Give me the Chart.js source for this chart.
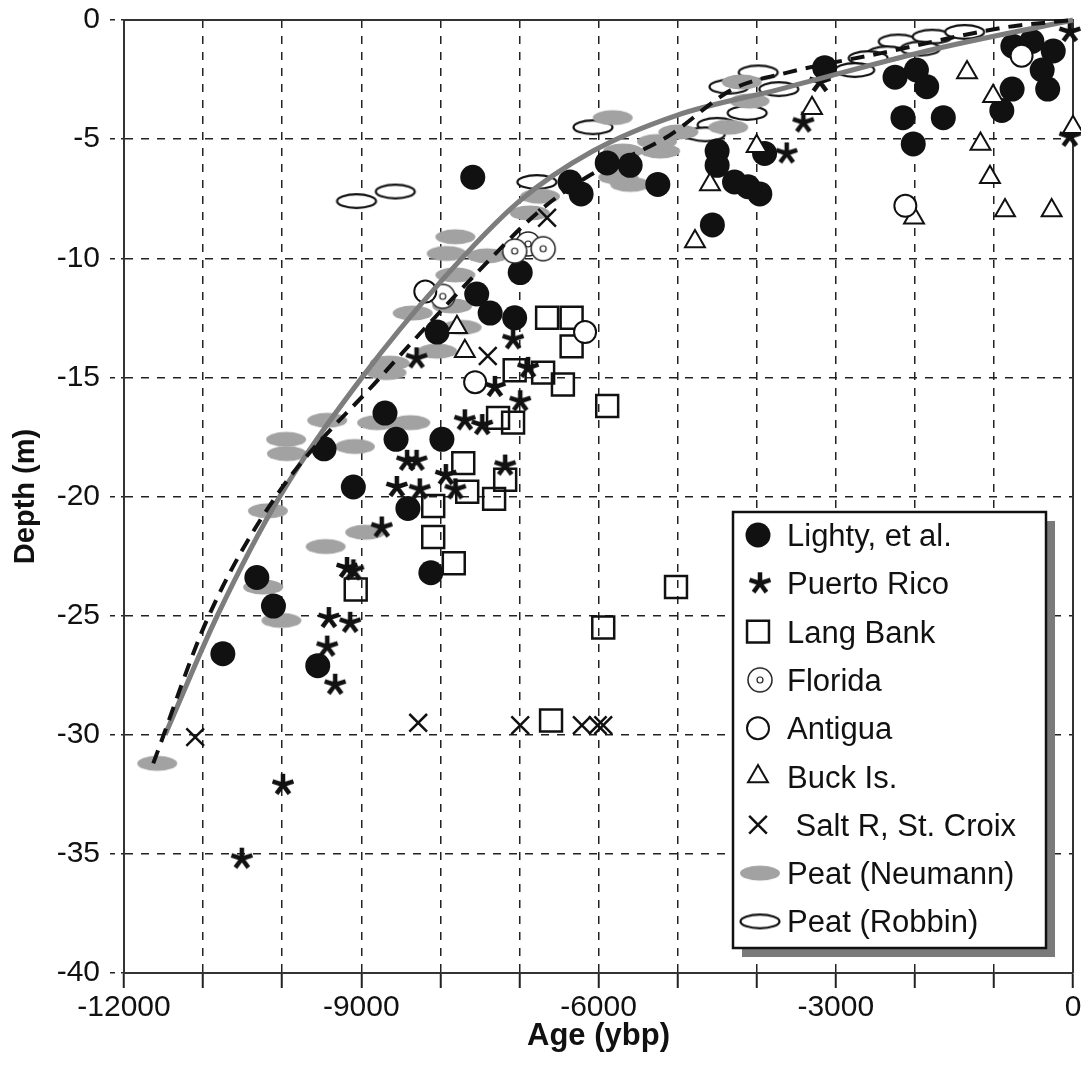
<!DOCTYPE html>
<html>
<head>
<meta charset="utf-8">
<script src="https://cdn.jsdelivr.net/npm/chart.js@4.4.1/dist/chart.umd.min.js"></script>
<style>
  html, body { margin: 0; padding: 0; background: #fff; }
  #c { display: block; }
</style>
</head>
<body>
<canvas id="c" width="1081" height="1065"></canvas>
<script>
// data: [age (ybp), depth (m)]
const lighty = [[-3140,-2.0],[-2250,-2.4],[-1980,-2.1],[-1850,-2.8],[-2150,-4.1],[-1640,-4.1],[-2020,-5.2],
  [-760,-1.1],[-520,-0.9],[-250,-1.3],[-390,-2.1],[-320,-2.9],[-770,-2.9],[-900,-3.8],
  [-5890,-6.0],[-5600,-6.1],[-6360,-6.8],[-6220,-7.3],[-5250,-6.9],[-4500,-5.5],[-4500,-6.1],[-4280,-6.8],
  [-4110,-7.0],[-3960,-7.3],[-4560,-8.6],[-3900,-5.6],
  [-7590,-6.6],[-6990,-10.6],[-7540,-11.5],[-7370,-12.3],[-7060,-12.5],[-8040,-13.1],
  [-8700,-16.5],[-8560,-17.6],[-7980,-17.6],[-9470,-18.0],[-9100,-19.6],[-8410,-20.5],[-8120,-23.2],
  [-10320,-23.4],[-10110,-24.6],[-10750,-26.6],[-9550,-27.1]];
const puertoRico = [[-40,-0.5],[-40,-4.9],[-3200,-2.6],[-3410,-4.3],[-3620,-5.6],[-8300,-14.2],[-7080,-13.4],
  [-7310,-15.4],[-6890,-14.6],[-6990,-16.0],[-7690,-16.8],[-7470,-17.0],[-7180,-18.7],[-8420,-18.5],
  [-8300,-18.5],[-8550,-19.6],[-8260,-19.7],[-7930,-19.1],[-7810,-19.7],[-8740,-21.3],[-9180,-23.0],
  [-9100,-23.1],[-9410,-25.1],[-9140,-25.3],[-9430,-26.3],[-9330,-27.9],[-9990,-32.1],[-10510,-35.2]];
const langBank = [[-6650,-12.5],[-6340,-12.5],[-6340,-13.7],[-7060,-14.7],[-6700,-14.8],[-6450,-15.3],
  [-5890,-16.2],[-7270,-16.7],[-7080,-16.9],[-7710,-18.6],[-7660,-19.8],[-7320,-20.1],[-7180,-19.3],
  [-8090,-20.4],[-8090,-21.7],[-7830,-22.8],[-9070,-23.9],[-5020,-23.8],[-5940,-25.5],[-6600,-29.4]];
const florida = [[-6890,-9.4],[-6700,-9.6],[-7060,-9.7],[-7970,-11.6]];
const antigua = [[-8190,-11.4],[-7560,-15.2],[-6170,-13.1],[-650,-1.5],[-2120,-7.8]];
const buckIs = [[-7790,-12.9],[-7690,-13.9],[-4590,-6.9],[-4780,-9.3],[-4000,-5.3],[-3300,-3.7],
  [-1340,-2.2],[-1010,-3.2],[-1170,-5.2],[-1050,-6.6],[-2010,-8.3],[-860,-8.0],[-270,-8.0],[0,-4.5]];
const saltRiver = [[-6650,-8.3],[-7400,-14.1],[-11100,-30.1],[-8280,-29.5],[-6990,-29.6],[-6210,-29.6],
  [-6010,-29.6],[-5940,-29.6]];
const peatNeumann = [[-9430,-16.8],[-8800,-16.9],[-8380,-16.9],[-9950,-17.6],[-9940,-18.2],[-9080,-17.9],
  [-10180,-20.6],[-8950,-21.5],[-9450,-22.1],[-10240,-23.8],[-10010,-25.2],[-11580,-31.2],
  [-7810,-9.1],[-7920,-9.8],[-7410,-9.9],[-7810,-10.7],[-7850,-12.0],[-8350,-12.3],[-7730,-12.9],
  [-8040,-13.9],[-8640,-14.4],[-8680,-14.8],[-6740,-7.4],[-6870,-8.1],
  [-5820,-4.1],[-4990,-4.7],[-5260,-5.1],[-5690,-5.5],[-5220,-5.5],[-4360,-4.5],[-5750,-6.6],
  [-5600,-6.9],[-4190,-2.6],[-4090,-3.4]];
const peatRobbin = [[-9060,-7.6],[-8570,-7.2],[-6780,-6.8],[-6070,-4.5],[-4500,-4.4],[-4650,-4.8],
  [-4120,-3.9],[-4350,-2.8],[-3980,-2.2],[-3720,-2.9],[-2210,-0.9],[-1780,-0.7],[-1370,-0.5],
  [-2350,-1.4],[-2590,-1.6],[-2760,-2.1],[-1930,-1.2]];
// the two sea-level curves
const curveSolid = [[-11480,-30],[-10820,-25],[-10030,-20],[-8990,-15],[-8000,-11],[-7000,-7.6],
  [-6070,-5.5],[-5010,-4.0],[-3700,-2.9],[-1850,-1.3],[0,0]];
const curveDashed = [[-11630,-31.2],[-10940,-25.1],[-10080,-20],[-8760,-15],[-7590,-10.8],[-6740,-8.0],
  [-6150,-6.6],[-5130,-4.9],[-4300,-2.9],[-3600,-2.2],[-2440,-1.4],[-840,-0.3],[0,0]];

const xTicks = [-12000, -9000, -6000, -3000, 0];
const FONT = '"Liberation Sans", Arial, Helvetica, sans-serif';

const pts = arr => arr.map(p => ({x: p[0], y: p[1]}));

function makeImg(w, h, draw) {
  const c = document.createElement('canvas');
  c.width = w; c.height = h;
  draw(c.getContext('2d'), w / 2, h / 2);
  return c;
}
// bold asterisk (5 arms)
const starImg = makeImg(26, 26, (g, cx, cy) => {
  g.strokeStyle = '#111'; g.lineWidth = 4.5; g.lineCap = 'butt';
  g.beginPath();
  for (let k = 0; k < 5; k++) {
    const a = (-90 + 72 * k) * Math.PI / 180;
    g.moveTo(cx, cy);
    g.lineTo(cx + Math.cos(a) * 11, cy + Math.sin(a) * 11);
  }
  g.stroke();
});
const floridaImg = makeImg(28, 28, (g, cx, cy) => {
  g.fillStyle = '#fff'; g.strokeStyle = '#222'; g.lineWidth = 1.5;
  g.beginPath(); g.arc(cx, cy, 12, 0, Math.PI * 2); g.fill(); g.stroke();
  g.lineWidth = 1.2;
  g.beginPath(); g.arc(cx, cy, 3, 0, Math.PI * 2); g.stroke();
});
const neumannImg = makeImg(44, 18, (g, cx, cy) => {
  g.fillStyle = '#a2a2a2';
  g.beginPath(); g.ellipse(cx, cy, 20, 7.5, 0, 0, Math.PI * 2); g.fill();
});
const robbinImg = makeImg(44, 18, (g, cx, cy) => {
  g.fillStyle = '#fff'; g.strokeStyle = '#111'; g.lineWidth = 2.2;
  g.beginPath(); g.ellipse(cx, cy, 19.5, 6.8, 0, 0, Math.PI * 2); g.fill(); g.stroke();
});

const series = [
  {label: 'Lighty, et al.', data: lighty, pointStyle: 'circle', radius: 12.5, bg: '#111', border: '#111', bw: 0},
  {label: 'Puerto Rico', data: puertoRico, pointStyle: starImg, radius: 11, bg: '#111', border: '#111', bw: 0},
  {label: 'Lang Bank', data: langBank, pointStyle: 'rect', radius: 15.5, bg: 'rgba(0,0,0,0)', border: '#111', bw: 2.5},
  {label: 'Florida', data: florida, pointStyle: floridaImg, radius: 12, bg: '#fff', border: '#222', bw: 1.5},
  {label: 'Antigua', data: antigua, pointStyle: 'circle', radius: 11, bg: '#fff', border: '#111', bw: 2},
  {label: 'Buck Is.', data: buckIs, pointStyle: 'triangle', radius: 11.5, bg: '#fff', border: '#111', bw: 2},
  {label: ' Salt R, St. Croix', data: saltRiver, pointStyle: 'crossRot', radius: 12.5, bg: 'rgba(0,0,0,0)', border: '#111', bw: 2.5},
  {label: 'Peat (Neumann)', data: peatNeumann, pointStyle: neumannImg, radius: 10, bg: '#a2a2a2', border: '#a2a2a2', bw: 0},
  {label: 'Peat (Robbin)', data: peatRobbin, pointStyle: robbinImg, radius: 10, bg: '#fff', border: '#111', bw: 2}
];

// drawing order: first dataset ends up on top
const drawOrder = ['Antigua', 'Buck Is.', ' Salt R, St. Croix', 'Lang Bank', 'Puerto Rico', 'Florida',
  'Lighty, et al.', 'Peat (Neumann)', 'Peat (Robbin)'];

const datasets = [
  {label: 'dashed', data: pts(curveDashed), showLine: true, pointRadius: 0, borderColor: '#111',
   borderWidth: 4, borderDash: [14, 9], cubicInterpolationMode: 'monotone', fill: false, clip: false},
  {label: 'solid', data: pts(curveSolid), showLine: true, pointRadius: 0, borderColor: '#7d7d7d',
   borderWidth: 5, cubicInterpolationMode: 'monotone', fill: false, clip: false}
];
drawOrder.forEach(name => {
  const s = series.find(d => d.label === name);
  datasets.push({
    label: s.label, data: pts(s.data), showLine: false,
    pointStyle: s.pointStyle, pointRadius: s.radius, pointHoverRadius: s.radius,
    pointBackgroundColor: s.bg, pointBorderColor: s.border, pointBorderWidth: s.bw,
    clip: false
  });
});

// frame on top and right of the plot
const framePlugin = {
  id: 'frame',
  beforeDatasetsDraw(chart) {
    const {ctx, chartArea: a} = chart;
    ctx.save();
    ctx.strokeStyle = '#333'; ctx.lineWidth = 2;
    ctx.beginPath();
    ctx.moveTo(a.left, a.top); ctx.lineTo(a.right, a.top); ctx.lineTo(a.right, a.bottom);
    ctx.stroke();
    ctx.restore();
  }
};

// boxed legend with drop shadow
const legendPlugin = {
  id: 'boxLegend',
  afterDraw(chart) {
    const ctx = chart.ctx;
    const bx = 733, by = 512, bw = 313, bh = 436, rowH = 48.3, first = 535;
    ctx.save();
    ctx.fillStyle = '#7a7a7a';
    ctx.fillRect(bx + 9, by + 9, bw, bh);
    ctx.fillStyle = '#fff';
    ctx.fillRect(bx, by, bw, bh);
    ctx.strokeStyle = '#111'; ctx.lineWidth = 2.5;
    ctx.strokeRect(bx, by, bw, bh);
    series.forEach((s, i) => {
      const y = first + i * rowH;
      const x = (typeof s.pointStyle === 'object') ? 760 : 758;
      ctx.fillStyle = s.bg; ctx.strokeStyle = s.border; ctx.lineWidth = s.bw;
      Chart.helpers.drawPoint(ctx, {pointStyle: s.pointStyle, radius: s.radius, borderWidth: s.bw, rotation: 0}, x, y);
      ctx.fillStyle = '#111';
      ctx.font = '31px ' + FONT;
      ctx.textAlign = 'left'; ctx.textBaseline = 'alphabetic';
      ctx.fillText(s.label, 787, y + 11);
    });
    ctx.restore();
  }
};

new Chart(document.getElementById('c'), {
  type: 'scatter',
  data: {datasets},
  options: {
    responsive: false,
    animation: false,
    events: [],
    layout: {autoPadding: false, padding: {top: 20, right: 8, left: 0, bottom: 0}},
    plugins: {legend: {display: false}, tooltip: {enabled: false}},
    scales: {
      x: {
        type: 'linear', min: -12000, max: 0,
        afterFit: s => { s.height = 92; s.paddingLeft = 0; s.paddingRight = 0; },
        afterBuildTicks: s => { s.ticks = []; for (let v = -12000; v <= 0; v += 1000) s.ticks.push({value: v}); },
        ticks: {
          autoSkip: false, maxRotation: 0, padding: 2, color: '#111',
          font: {family: FONT, size: 30},
          callback: v => xTicks.includes(v) ? String(v) : ''
        },
        grid: {color: '#222', lineWidth: 1.5, tickLength: 15, tickColor: '#222', tickWidth: 2, tickBorderDash: []},
        border: {display: true, color: '#333', width: 2, dash: [8, 8]},
        title: {display: true, text: 'Age (ybp)', color: '#111', padding: {top: 0, bottom: 10},
                font: {family: FONT, size: 31, weight: 'bold'}}
      },
      y: {
        type: 'linear', min: -40, max: 0,
        afterFit: s => { s.width = 124; s.paddingTop = 0; s.paddingBottom = 0; },
        ticks: {stepSize: 5, padding: 10, color: '#111', font: {family: FONT, size: 30},
                callback: v => String(v)},
        grid: {color: '#222', lineWidth: 1.5, tickLength: 14, tickColor: '#222', tickWidth: 1.5, tickBorderDash: [5, 6]},
        border: {display: true, color: '#333', width: 2, dash: [8, 8]},
        title: {display: true, text: 'Depth (m)', color: '#111', padding: {top: 9, bottom: 0},
                font: {family: FONT, size: 29, weight: 'bold'}}
      }
    }
  },
  plugins: [framePlugin, legendPlugin]
});
</script>
</body>
</html>
